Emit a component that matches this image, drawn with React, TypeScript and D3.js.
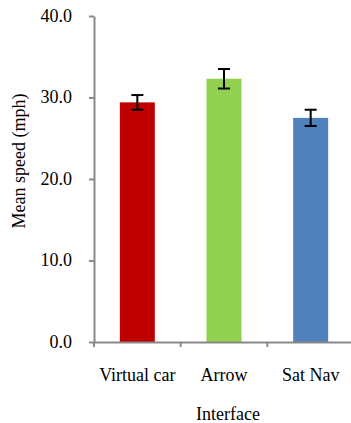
import { useEffect, useRef } from 'react';
import * as d3 from 'd3';

const categories = ['Virtual car', 'Arrow', 'Sat Nav'];
const meanSpeed = [29.4, 32.3, 27.5];
const errors = [0.9, 1.2, 1.0];
const barColors = ['#C00000', '#92D050', '#4F81BD'];
const yTicks = [0, 10, 20, 30, 40];

function App() {
  const svgRef = useRef<SVGSVGElement>(null);

  useEffect(() => {
    const svg = d3.select(svgRef.current);
    svg.selectAll('*').remove();

    const font = '"Times New Roman", Times, "Liberation Serif", serif';
    const axisColor = '#898989';

    const x = d3.scaleBand<string>().domain(categories).range([94, 354]);
    const y = d3.scaleLinear().domain([0, 40]).range([342, 16]);
    const barW = 35;

    const data = categories.map((c, i) => ({ c, v: meanSpeed[i], e: errors[i], col: barColors[i] }));

    // bars
    svg
      .selectAll('rect.bar')
      .data(data)
      .enter()
      .append('rect')
      .attr('class', 'bar')
      .attr('x', (d) => x(d.c)! + x.bandwidth() / 2 - barW / 2)
      .attr('y', (d) => y(d.v))
      .attr('width', barW)
      .attr('height', (d) => y(0) - y(d.v))
      .attr('fill', (d) => d.col);

    // y axis
    const yAxis = svg
      .append('g')
      .attr('transform', `translate(${x.range()[0]},0)`)
      .call(d3.axisLeft(y).tickValues(yTicks).tickSize(5).tickSizeOuter(0).tickPadding(17).tickFormat(d3.format('.1f')));
    yAxis.attr('font-family', null).attr('font-size', null);
    yAxis.select('.domain').attr('stroke', axisColor).attr('stroke-width', 2);
    yAxis.selectAll('.tick line').attr('stroke', axisColor).attr('stroke-width', 2);
    yAxis.selectAll('.tick text').attr('fill', '#000').attr('dy', '0.28em');

    // x axis
    const xAxis = svg
      .append('g')
      .attr('transform', `translate(0,${y(0)})`)
      .call(d3.axisBottom(x).tickSize(0).tickPadding(26));
    xAxis.attr('font-family', null).attr('font-size', null);
    xAxis.select('.domain').attr('stroke', axisColor).attr('stroke-width', 2);
    xAxis.selectAll('.tick text').attr('fill', '#000');
    // category separators
    svg
      .selectAll('line.sep')
      .data(categories)
      .enter()
      .append('line')
      .attr('class', 'sep')
      .attr('x1', (d) => x(d)!)
      .attr('x2', (d) => x(d)!)
      .attr('y1', y(0))
      .attr('y2', y(0) + 5)
      .attr('stroke', axisColor)
      .attr('stroke-width', 2);

    // error bars
    const eb = svg.selectAll('g.err').data(data).enter().append('g').attr('class', 'err');
    const cx = (d: { c: string }) => x(d.c)! + x.bandwidth() / 2;
    eb.append('line')
      .attr('x1', cx)
      .attr('x2', cx)
      .attr('y1', (d) => y(d.v + d.e))
      .attr('y2', (d) => y(d.v - d.e))
      .attr('stroke', '#000')
      .attr('stroke-width', 2);
    [1, -1].forEach((s) => {
      eb.append('line')
        .attr('x1', (d) => cx(d) - 6)
        .attr('x2', (d) => cx(d) + 6)
        .attr('y1', (d) => y(d.v + s * d.e))
        .attr('y2', (d) => y(d.v + s * d.e))
        .attr('stroke', '#000')
        .attr('stroke-width', 2);
    });

    // titles
    svg
      .append('text')
      .attr('x', 228)
      .attr('y', 420)
      .attr('text-anchor', 'middle')
      .text('Interface');
    svg
      .append('text')
      .attr('transform', 'translate(25,161) rotate(-90)')
      .attr('text-anchor', 'middle')
      .text('Mean speed (mph)');

    svg.style('font-family', font).style('font-size', '18px');
  }, []);

  return (
    <svg
      ref={svgRef}
      width={351}
      height={423}
      style={{ position: 'absolute', left: 0, top: 0, background: '#fff' }}
    />
  );
}

export default App;
